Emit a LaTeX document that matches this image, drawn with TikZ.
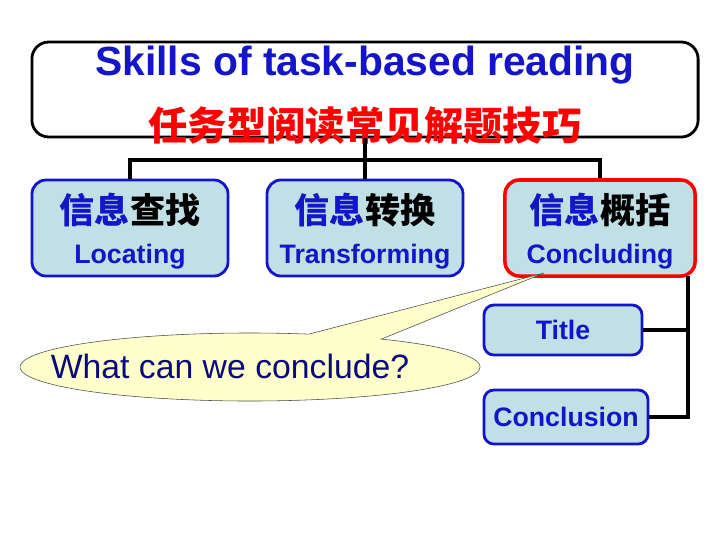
\documentclass[tikz,border=0pt]{standalone}
\usepackage{fontspec}
\setmainfont{Liberation Sans}
\newfontfamily\cjk{Noto Sans CJK SC}
\usetikzlibrary{shapes.callouts}
\definecolor{boxfill}{RGB}{192,224,230}
\definecolor{boxline}{RGB}{20,20,200}
\definecolor{bubble}{RGB}{255,255,204}
\definecolor{navy}{RGB}{10,10,120}
\tikzset{
  skill/.style={draw=boxline, fill=boxfill, line width=2pt, rounded corners=10pt, minimum width=4.9cm, minimum height=2.4cm},
  part/.style={draw=boxline, fill=boxfill, line width=2pt, rounded corners=7pt, minimum height=1.25cm, text=boxline, font=\bfseries\fontsize{19}{19}\selectfont},
  tree/.style={line width=2.5pt},
  cn/.style={font=\cjk\bfseries\fontsize{25}{25}\selectfont},
  en/.style={text=boxline, font=\bfseries\fontsize{19}{19}\selectfont}
}
\begin{document}
\begin{tikzpicture}[x=0.025cm,y=-0.025cm]
\useasboundingbox (0,0) rectangle (720,540);

% heading
\node [draw, line width=2pt, rounded corners=12pt, minimum width=16.65cm, minimum height=2.375cm] (top) at (365,89.5) {};
\node [text=boxline, font=\bfseries\fontsize{29}{29}\selectfont] (topEN) at (365,65) {Skills of task-based reading};
\node [text=red, font=\cjk\bfseries\fontsize{28}{28}\selectfont] (topCN) at (365,126) {任务型阅读常见解题技巧};

% three skills
\node [skill] (loc) at (130,228) {};
\node [skill] (trans) at (365,228) {};
\node [skill, draw=red, line width=2.5pt, minimum width=4.75cm] (concl) at (600,228) {};

\node [cn] (locCN) at (130,210) {\textcolor{boxline}{信息}查找};
\node [en] (locEN) at (130,257) {Locating};
\node [cn] (transCN) at (365,210) {\textcolor{boxline}{信息}转换};
\node [en] (transEN) at (365,257) {Transforming};
\node [cn] (conclCN) at (600,210) {\textcolor{boxline}{信息}概括};
\node [en] (conclEN) at (600,257) {Concluding};

\coordinate (hub) at (365,160);
\draw [tree] (top.south) -- (hub);
\draw [tree] (loc.north) |- (hub) -| (concl.north);
\draw [tree] (hub) -- (trans.north);

% parts of concluding
\node [part, minimum width=3.95cm] (ttl) at (563,330) {Title};
\node [part, minimum width=4.1cm, minimum height=1.35cm] (conc) at (566,417) {Conclusion};

\coordinate (rail) at (688,276);
\draw [tree] (rail) |- ([xshift=0.05cm]conc.east) -- (conc.east);
\draw [tree] (ttl.east) -- (ttl.east -| rail);

% bubble
\coordinate (tip) at (544,273);
\node [ellipse callout, draw=black!70, fill=bubble, thin, minimum width=11.5cm, minimum height=1.7cm, inner sep=0pt,
       callout absolute pointer={(tip)}, callout pointer arc=20] (ask) at (250,367) {};
\node [text=navy, font=\fontsize{24}{24}\selectfont] (askText) at (230,366) {What can we conclude?};
\end{tikzpicture}
\end{document}
